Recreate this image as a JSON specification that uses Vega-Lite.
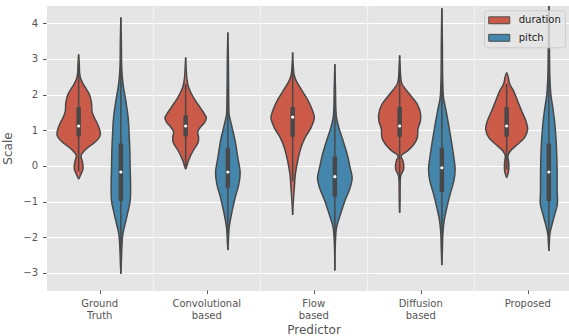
{
"$schema": "https://vega.github.io/schema/vega-lite/v6.json",
"padding": {"left": 1, "top": 5, "right": 0, "bottom": 0},
"data": {"values": [
{"predictor":"Ground Truth","group":"duration","value":3.13,"density":0},
{"predictor":"Ground Truth","group":"duration","value":2.9,"density":0.6},
{"predictor":"Ground Truth","group":"duration","value":2.6,"density":1},
{"predictor":"Ground Truth","group":"duration","value":2.45,"density":2},
{"predictor":"Ground Truth","group":"duration","value":2.3,"density":4.5},
{"predictor":"Ground Truth","group":"duration","value":2.2,"density":6.7},
{"predictor":"Ground Truth","group":"duration","value":2.01,"density":10.7},
{"predictor":"Ground Truth","group":"duration","value":1.85,"density":12.3},
{"predictor":"Ground Truth","group":"duration","value":1.73,"density":13},
{"predictor":"Ground Truth","group":"duration","value":1.54,"density":13.3},
{"predictor":"Ground Truth","group":"duration","value":1.35,"density":15.7},
{"predictor":"Ground Truth","group":"duration","value":1.17,"density":19},
{"predictor":"Ground Truth","group":"duration","value":0.98,"density":21.3},
{"predictor":"Ground Truth","group":"duration","value":0.88,"density":21.7},
{"predictor":"Ground Truth","group":"duration","value":0.76,"density":19.5},
{"predictor":"Ground Truth","group":"duration","value":0.65,"density":15.7},
{"predictor":"Ground Truth","group":"duration","value":0.51,"density":9},
{"predictor":"Ground Truth","group":"duration","value":0.37,"density":4},
{"predictor":"Ground Truth","group":"duration","value":0.28,"density":2.3},
{"predictor":"Ground Truth","group":"duration","value":0.18,"density":3.2},
{"predictor":"Ground Truth","group":"duration","value":0.05,"density":4.2},
{"predictor":"Ground Truth","group":"duration","value":-0.09,"density":4.3},
{"predictor":"Ground Truth","group":"duration","value":-0.23,"density":2.3},
{"predictor":"Ground Truth","group":"duration","value":-0.37,"density":0},
{"predictor":"Ground Truth","group":"pitch","value":4.16,"density":0},
{"predictor":"Ground Truth","group":"pitch","value":3.5,"density":0.5},
{"predictor":"Ground Truth","group":"pitch","value":2.8,"density":0.8},
{"predictor":"Ground Truth","group":"pitch","value":2.48,"density":1.5},
{"predictor":"Ground Truth","group":"pitch","value":2.2,"density":2.7},
{"predictor":"Ground Truth","group":"pitch","value":1.82,"density":5},
{"predictor":"Ground Truth","group":"pitch","value":1.35,"density":7.3},
{"predictor":"Ground Truth","group":"pitch","value":0.89,"density":8.3},
{"predictor":"Ground Truth","group":"pitch","value":0.42,"density":9},
{"predictor":"Ground Truth","group":"pitch","value":-0.05,"density":9.3},
{"predictor":"Ground Truth","group":"pitch","value":-0.51,"density":9.7},
{"predictor":"Ground Truth","group":"pitch","value":-0.98,"density":9.3},
{"predictor":"Ground Truth","group":"pitch","value":-1.26,"density":7.3},
{"predictor":"Ground Truth","group":"pitch","value":-1.54,"density":5},
{"predictor":"Ground Truth","group":"pitch","value":-1.91,"density":2},
{"predictor":"Ground Truth","group":"pitch","value":-2.29,"density":1},
{"predictor":"Ground Truth","group":"pitch","value":-2.7,"density":0.5},
{"predictor":"Ground Truth","group":"pitch","value":-3.02,"density":0},
{"predictor":"Convolutional based","group":"duration","value":3.04,"density":0},
{"predictor":"Convolutional based","group":"duration","value":2.7,"density":0.6},
{"predictor":"Convolutional based","group":"duration","value":2.45,"density":1.2},
{"predictor":"Convolutional based","group":"duration","value":2.2,"density":3},
{"predictor":"Convolutional based","group":"duration","value":1.91,"density":8},
{"predictor":"Convolutional based","group":"duration","value":1.63,"density":14.7},
{"predictor":"Convolutional based","group":"duration","value":1.45,"density":19},
{"predictor":"Convolutional based","group":"duration","value":1.35,"density":20.7},
{"predictor":"Convolutional based","group":"duration","value":1.22,"density":19},
{"predictor":"Convolutional based","group":"duration","value":1.08,"density":14.5},
{"predictor":"Convolutional based","group":"duration","value":0.95,"density":12},
{"predictor":"Convolutional based","group":"duration","value":0.8,"density":13},
{"predictor":"Convolutional based","group":"duration","value":0.65,"density":12.3},
{"predictor":"Convolutional based","group":"duration","value":0.42,"density":7.3},
{"predictor":"Convolutional based","group":"duration","value":0.14,"density":2.7},
{"predictor":"Convolutional based","group":"duration","value":0.0,"density":1.2},
{"predictor":"Convolutional based","group":"duration","value":-0.09,"density":0},
{"predictor":"Convolutional based","group":"pitch","value":3.74,"density":0},
{"predictor":"Convolutional based","group":"pitch","value":3.0,"density":0.5},
{"predictor":"Convolutional based","group":"pitch","value":2.0,"density":0.8},
{"predictor":"Convolutional based","group":"pitch","value":1.6,"density":1},
{"predictor":"Convolutional based","group":"pitch","value":1.45,"density":1.3},
{"predictor":"Convolutional based","group":"pitch","value":1.07,"density":4.3},
{"predictor":"Convolutional based","group":"pitch","value":0.7,"density":7.3},
{"predictor":"Convolutional based","group":"pitch","value":0.23,"density":10},
{"predictor":"Convolutional based","group":"pitch","value":-0.19,"density":12.3},
{"predictor":"Convolutional based","group":"pitch","value":-0.51,"density":11},
{"predictor":"Convolutional based","group":"pitch","value":-0.89,"density":7.3},
{"predictor":"Convolutional based","group":"pitch","value":-1.26,"density":4.3},
{"predictor":"Convolutional based","group":"pitch","value":-1.73,"density":1.3},
{"predictor":"Convolutional based","group":"pitch","value":-2.0,"density":0.7},
{"predictor":"Convolutional based","group":"pitch","value":-2.36,"density":0},
{"predictor":"Flow based","group":"duration","value":3.18,"density":0},
{"predictor":"Flow based","group":"duration","value":2.8,"density":0.6},
{"predictor":"Flow based","group":"duration","value":2.55,"density":1.5},
{"predictor":"Flow based","group":"duration","value":2.38,"density":3.7},
{"predictor":"Flow based","group":"duration","value":2.1,"density":9.7},
{"predictor":"Flow based","group":"duration","value":1.82,"density":15.7},
{"predictor":"Flow based","group":"duration","value":1.54,"density":20},
{"predictor":"Flow based","group":"duration","value":1.35,"density":21.7},
{"predictor":"Flow based","group":"duration","value":1.07,"density":18.3},
{"predictor":"Flow based","group":"duration","value":0.79,"density":12.3},
{"predictor":"Flow based","group":"duration","value":0.51,"density":8.3},
{"predictor":"Flow based","group":"duration","value":0.14,"density":5},
{"predictor":"Flow based","group":"duration","value":-0.23,"density":2.7},
{"predictor":"Flow based","group":"duration","value":-0.61,"density":1.7},
{"predictor":"Flow based","group":"duration","value":-0.98,"density":0.7},
{"predictor":"Flow based","group":"duration","value":-1.37,"density":0},
{"predictor":"Flow based","group":"pitch","value":2.85,"density":0},
{"predictor":"Flow based","group":"pitch","value":2.2,"density":0.6},
{"predictor":"Flow based","group":"pitch","value":1.6,"density":1},
{"predictor":"Flow based","group":"pitch","value":1.35,"density":1.7},
{"predictor":"Flow based","group":"pitch","value":1.07,"density":4},
{"predictor":"Flow based","group":"pitch","value":0.7,"density":8.3},
{"predictor":"Flow based","group":"pitch","value":0.33,"density":12.3},
{"predictor":"Flow based","group":"pitch","value":-0.05,"density":15.3},
{"predictor":"Flow based","group":"pitch","value":-0.33,"density":17.3},
{"predictor":"Flow based","group":"pitch","value":-0.61,"density":15.3},
{"predictor":"Flow based","group":"pitch","value":-0.98,"density":10},
{"predictor":"Flow based","group":"pitch","value":-1.35,"density":5.7},
{"predictor":"Flow based","group":"pitch","value":-1.73,"density":1.7},
{"predictor":"Flow based","group":"pitch","value":-2.1,"density":0.6},
{"predictor":"Flow based","group":"pitch","value":-2.93,"density":0},
{"predictor":"Diffusion based","group":"duration","value":3.1,"density":0},
{"predictor":"Diffusion based","group":"duration","value":2.7,"density":0.6},
{"predictor":"Diffusion based","group":"duration","value":2.45,"density":1.2},
{"predictor":"Diffusion based","group":"duration","value":2.29,"density":2.5},
{"predictor":"Diffusion based","group":"duration","value":2.01,"density":10},
{"predictor":"Diffusion based","group":"duration","value":1.73,"density":17.7},
{"predictor":"Diffusion based","group":"duration","value":1.45,"density":21},
{"predictor":"Diffusion based","group":"duration","value":1.26,"density":20.7},
{"predictor":"Diffusion based","group":"duration","value":1.03,"density":18.3},
{"predictor":"Diffusion based","group":"duration","value":0.79,"density":17.7},
{"predictor":"Diffusion based","group":"duration","value":0.61,"density":14.3},
{"predictor":"Diffusion based","group":"duration","value":0.42,"density":7.7},
{"predictor":"Diffusion based","group":"duration","value":0.28,"density":1.5},
{"predictor":"Diffusion based","group":"duration","value":0.15,"density":3.2},
{"predictor":"Diffusion based","group":"duration","value":0.05,"density":4},
{"predictor":"Diffusion based","group":"duration","value":-0.09,"density":4},
{"predictor":"Diffusion based","group":"duration","value":-0.28,"density":1},
{"predictor":"Diffusion based","group":"duration","value":-0.6,"density":0.5},
{"predictor":"Diffusion based","group":"duration","value":-1.0,"density":0.4},
{"predictor":"Diffusion based","group":"duration","value":-1.31,"density":0},
{"predictor":"Diffusion based","group":"pitch","value":4.42,"density":0},
{"predictor":"Diffusion based","group":"pitch","value":3.5,"density":0.5},
{"predictor":"Diffusion based","group":"pitch","value":2.5,"density":0.8},
{"predictor":"Diffusion based","group":"pitch","value":1.91,"density":1.7},
{"predictor":"Diffusion based","group":"pitch","value":1.54,"density":4.3},
{"predictor":"Diffusion based","group":"pitch","value":1.07,"density":7.3},
{"predictor":"Diffusion based","group":"pitch","value":0.61,"density":10},
{"predictor":"Diffusion based","group":"pitch","value":0.23,"density":12},
{"predictor":"Diffusion based","group":"pitch","value":-0.09,"density":13.3},
{"predictor":"Diffusion based","group":"pitch","value":-0.42,"density":12},
{"predictor":"Diffusion based","group":"pitch","value":-0.79,"density":8.3},
{"predictor":"Diffusion based","group":"pitch","value":-1.17,"density":5},
{"predictor":"Diffusion based","group":"pitch","value":-1.54,"density":2.3},
{"predictor":"Diffusion based","group":"pitch","value":-1.91,"density":1},
{"predictor":"Diffusion based","group":"pitch","value":-2.3,"density":0.6},
{"predictor":"Diffusion based","group":"pitch","value":-2.78,"density":0},
{"predictor":"Proposed","group":"duration","value":2.62,"density":0},
{"predictor":"Proposed","group":"duration","value":2.48,"density":1.7},
{"predictor":"Proposed","group":"duration","value":2.35,"density":2.5},
{"predictor":"Proposed","group":"duration","value":2.22,"density":4.5},
{"predictor":"Proposed","group":"duration","value":2.1,"density":7},
{"predictor":"Proposed","group":"duration","value":1.82,"density":11},
{"predictor":"Proposed","group":"duration","value":1.54,"density":15},
{"predictor":"Proposed","group":"duration","value":1.26,"density":19.3},
{"predictor":"Proposed","group":"duration","value":1.03,"density":21},
{"predictor":"Proposed","group":"duration","value":0.79,"density":17.7},
{"predictor":"Proposed","group":"duration","value":0.61,"density":11},
{"predictor":"Proposed","group":"duration","value":0.42,"density":3.7},
{"predictor":"Proposed","group":"duration","value":0.28,"density":1.3},
{"predictor":"Proposed","group":"duration","value":0.12,"density":2},
{"predictor":"Proposed","group":"duration","value":0.0,"density":2.2},
{"predictor":"Proposed","group":"duration","value":-0.14,"density":2},
{"predictor":"Proposed","group":"duration","value":-0.25,"density":1},
{"predictor":"Proposed","group":"duration","value":-0.33,"density":0},
{"predictor":"Proposed","group":"pitch","value":4.7,"density":0},
{"predictor":"Proposed","group":"pitch","value":3.5,"density":0.5},
{"predictor":"Proposed","group":"pitch","value":2.5,"density":1},
{"predictor":"Proposed","group":"pitch","value":2.01,"density":2},
{"predictor":"Proposed","group":"pitch","value":1.63,"density":4},
{"predictor":"Proposed","group":"pitch","value":1.17,"density":6},
{"predictor":"Proposed","group":"pitch","value":0.7,"density":7.3},
{"predictor":"Proposed","group":"pitch","value":0.23,"density":8},
{"predictor":"Proposed","group":"pitch","value":-0.23,"density":8.3},
{"predictor":"Proposed","group":"pitch","value":-0.7,"density":8.3},
{"predictor":"Proposed","group":"pitch","value":-1.07,"density":8.5},
{"predictor":"Proposed","group":"pitch","value":-1.35,"density":6},
{"predictor":"Proposed","group":"pitch","value":-1.63,"density":3.3},
{"predictor":"Proposed","group":"pitch","value":-1.91,"density":1},
{"predictor":"Proposed","group":"pitch","value":-2.15,"density":0.5},
{"predictor":"Proposed","group":"pitch","value":-2.38,"density":0},
{"predictor":"Ground Truth","group":"duration","lo":-0.15,"q1":0.83,"median":1.12,"q3":1.65,"hi":2.85},
{"predictor":"Ground Truth","group":"pitch","lo":-2.5,"q1":-0.98,"median":-0.17,"q3":0.63,"hi":3.0},
{"predictor":"Convolutional based","group":"duration","lo":0.0,"q1":0.83,"median":1.12,"q3":1.42,"hi":2.3},
{"predictor":"Convolutional based","group":"pitch","lo":-1.9,"q1":-0.61,"median":-0.17,"q3":0.51,"hi":2.2},
{"predictor":"Flow based","group":"duration","lo":-0.43,"q1":0.82,"median":1.37,"q3":1.65,"hi":2.9},
{"predictor":"Flow based","group":"pitch","lo":-2.3,"q1":-0.86,"median":-0.3,"q3":0.26,"hi":1.94},
{"predictor":"Diffusion based","group":"duration","lo":-0.43,"q1":0.82,"median":1.12,"q3":1.65,"hi":2.9},
{"predictor":"Diffusion based","group":"pitch","lo":-2.3,"q1":-0.73,"median":-0.05,"q3":0.51,"hi":2.37},
{"predictor":"Proposed","group":"duration","lo":-0.1,"q1":0.82,"median":1.12,"q3":1.65,"hi":2.3},
{"predictor":"Proposed","group":"pitch","lo":-2.0,"q1":-0.98,"median":-0.17,"q3":0.63,"hi":3.05}
]},
"facet": {"column": {"field": "predictor", "type": "nominal",
  "sort": ["Ground Truth","Convolutional based","Flow based","Diffusion based","Proposed"],
  "title": "Predictor",
  "header": {"labelOrient": "bottom", "titleOrient": "bottom", "labelExpr": "split(datum.value, ' ')",
    "labelFont": "DejaVu Sans", "labelFontSize": 10, "labelColor": "#555555", "labelPadding": 4, "labelLineHeight": 12,
    "titleFont": "DejaVu Sans", "titleFontSize": 12, "titleColor": "#555555", "titleFontWeight": "normal", "titlePadding": -6}}},
"spacing": 0,
"resolve": {"scale": {"x": "independent"}},
"spec": {
  "width": 105.5, "height": 284,
  "resolve": {"scale": {"x": "independent"}},
  "layer": [
    {"layer": [
      {"transform": [{"filter": "datum.group === 'duration' && isValid(datum.density)"}],
       "mark": {"type": "area", "orient": "horizontal", "interpolate": "catmull-rom", "clip": true},
       "encoding": {
         "x": {"field": "density", "type": "quantitative", "stack": null, "scale": {"domain": [-73.85, 31.65], "reverse": true, "nice": false, "zero": false}, "axis": null},
         "y": {"field": "value", "type": "quantitative", "scale": {"domain": [-3.477, 4.485], "nice": false, "zero": false}, "title": "Scale", "axis": {"values": [-3,-2,-1,0,1,2,3,4], "labelExpr": "replace(datum.label, '-', '−')", "labelPadding": 5, "titlePadding": 8}},
         "color": {"field": "group", "type": "nominal", "scale": {"domain": ["duration","pitch"], "range": ["#CC5A49","#4586AC"]}, "legend": {"title": null, "orient": "none", "legendX": 437, "legendY": 4.3}}}},
      {"transform": [{"filter": "datum.group === 'duration' && isValid(datum.density)"}],
       "mark": {"type": "line", "interpolate": "catmull-rom", "color": "#484848", "strokeWidth": 1.5, "clip": true},
       "encoding": {
         "x": {"field": "density", "type": "quantitative", "scale": {"domain": [-73.85, 31.65], "reverse": true, "nice": false, "zero": false}, "axis": null},
         "y": {"field": "value", "type": "quantitative", "scale": {"domain": [-3.477, 4.485], "nice": false, "zero": false}, "title": "Scale", "axis": {"values": [-3,-2,-1,0,1,2,3,4], "labelExpr": "replace(datum.label, '-', '−')", "labelPadding": 5, "titlePadding": 8}},
         "order": {"field": "value", "type": "quantitative"}}}
    ]},
    {"layer": [
      {"transform": [{"filter": "datum.group === 'duration' && isValid(datum.density)"}],
       "mark": {"type": "area", "orient": "horizontal", "interpolate": "catmull-rom", "clip": true},
       "encoding": {
         "x": {"field": "density", "type": "quantitative", "stack": null, "scale": {"domain": [-31.65, 73.85], "nice": false, "zero": false}, "axis": {"values": [21.1], "labels": false, "domain": false, "grid": false, "ticks": true, "title": null}},
         "y": {"field": "value", "type": "quantitative", "scale": {"domain": [-3.477, 4.485], "nice": false, "zero": false}, "title": "Scale", "axis": {"values": [-3,-2,-1,0,1,2,3,4], "labelExpr": "replace(datum.label, '-', '−')", "labelPadding": 5, "titlePadding": 8}},
         "color": {"field": "group", "type": "nominal", "scale": {"domain": ["duration","pitch"], "range": ["#CC5A49","#4586AC"]}, "legend": {"title": null, "orient": "none", "legendX": 437, "legendY": 4.3}}}},
      {"transform": [{"filter": "datum.group === 'duration' && isValid(datum.density)"}],
       "mark": {"type": "line", "interpolate": "catmull-rom", "color": "#484848", "strokeWidth": 1.5, "clip": true},
       "encoding": {
         "x": {"field": "density", "type": "quantitative", "scale": {"domain": [-31.65, 73.85], "nice": false, "zero": false}, "axis": {"values": [21.1], "labels": false, "domain": false, "grid": false, "ticks": true, "title": null}},
         "y": {"field": "value", "type": "quantitative", "scale": {"domain": [-3.477, 4.485], "nice": false, "zero": false}, "title": "Scale", "axis": {"values": [-3,-2,-1,0,1,2,3,4], "labelExpr": "replace(datum.label, '-', '−')", "labelPadding": 5, "titlePadding": 8}},
         "order": {"field": "value", "type": "quantitative"}}},
      {"transform": [{"filter": "datum.group === 'duration' && isValid(datum.q1)"}],
       "mark": {"type": "rule", "color": "#484848", "strokeWidth": 1.5},
       "encoding": {
         "x": {"datum": 0, "type": "quantitative", "axis": {"values": [21.1], "labels": false, "domain": false, "grid": false, "ticks": true, "title": null}},
         "y": {"field": "lo", "type": "quantitative", "scale": {"domain": [-3.477, 4.485], "nice": false, "zero": false}, "title": "Scale", "axis": {"values": [-3,-2,-1,0,1,2,3,4], "labelExpr": "replace(datum.label, '-', '−')", "labelPadding": 5, "titlePadding": 8}},
         "y2": {"field": "hi"}}},
      {"transform": [{"filter": "datum.group === 'duration' && isValid(datum.q1)"}],
       "mark": {"type": "rule", "color": "#484848", "strokeWidth": 4.5, "strokeCap": "butt"},
       "encoding": {
         "x": {"datum": 0, "type": "quantitative", "axis": {"values": [21.1], "labels": false, "domain": false, "grid": false, "ticks": true, "title": null}},
         "y": {"field": "q1", "type": "quantitative", "scale": {"domain": [-3.477, 4.485], "nice": false, "zero": false}, "title": "Scale", "axis": {"values": [-3,-2,-1,0,1,2,3,4], "labelExpr": "replace(datum.label, '-', '−')", "labelPadding": 5, "titlePadding": 8}},
         "y2": {"field": "q3"}}},
      {"transform": [{"filter": "datum.group === 'duration' && isValid(datum.q1)"}],
       "mark": {"type": "point", "filled": true, "color": "#FFFFFF", "opacity": 1, "size": 10},
       "encoding": {
         "x": {"datum": 0, "type": "quantitative", "axis": {"values": [21.1], "labels": false, "domain": false, "grid": false, "ticks": true, "title": null}},
         "y": {"field": "median", "type": "quantitative", "scale": {"domain": [-3.477, 4.485], "nice": false, "zero": false}, "title": "Scale", "axis": {"values": [-3,-2,-1,0,1,2,3,4], "labelExpr": "replace(datum.label, '-', '−')", "labelPadding": 5, "titlePadding": 8}}}}
    ]},
    {"layer": [
      {"transform": [{"filter": "datum.group === 'pitch' && isValid(datum.density)"}],
       "mark": {"type": "area", "orient": "horizontal", "interpolate": "catmull-rom", "clip": true},
       "encoding": {
         "x": {"field": "density", "type": "quantitative", "stack": null, "scale": {"domain": [-31.65, 73.85], "reverse": true, "nice": false, "zero": false}, "axis": null},
         "y": {"field": "value", "type": "quantitative", "scale": {"domain": [-3.477, 4.485], "nice": false, "zero": false}, "title": "Scale", "axis": {"values": [-3,-2,-1,0,1,2,3,4], "labelExpr": "replace(datum.label, '-', '−')", "labelPadding": 5, "titlePadding": 8}},
         "color": {"field": "group", "type": "nominal", "scale": {"domain": ["duration","pitch"], "range": ["#CC5A49","#4586AC"]}, "legend": {"title": null, "orient": "none", "legendX": 437, "legendY": 4.3}}}},
      {"transform": [{"filter": "datum.group === 'pitch' && isValid(datum.density)"}],
       "mark": {"type": "line", "interpolate": "catmull-rom", "color": "#484848", "strokeWidth": 1.5, "clip": true},
       "encoding": {
         "x": {"field": "density", "type": "quantitative", "scale": {"domain": [-31.65, 73.85], "reverse": true, "nice": false, "zero": false}, "axis": null},
         "y": {"field": "value", "type": "quantitative", "scale": {"domain": [-3.477, 4.485], "nice": false, "zero": false}, "title": "Scale", "axis": {"values": [-3,-2,-1,0,1,2,3,4], "labelExpr": "replace(datum.label, '-', '−')", "labelPadding": 5, "titlePadding": 8}},
         "order": {"field": "value", "type": "quantitative"}}}
    ]},
    {"layer": [
      {"transform": [{"filter": "datum.group === 'pitch' && isValid(datum.density)"}],
       "mark": {"type": "area", "orient": "horizontal", "interpolate": "catmull-rom", "clip": true},
       "encoding": {
         "x": {"field": "density", "type": "quantitative", "stack": null, "scale": {"domain": [-73.85, 31.65], "nice": false, "zero": false}, "axis": null},
         "y": {"field": "value", "type": "quantitative", "scale": {"domain": [-3.477, 4.485], "nice": false, "zero": false}, "title": "Scale", "axis": {"values": [-3,-2,-1,0,1,2,3,4], "labelExpr": "replace(datum.label, '-', '−')", "labelPadding": 5, "titlePadding": 8}},
         "color": {"field": "group", "type": "nominal", "scale": {"domain": ["duration","pitch"], "range": ["#CC5A49","#4586AC"]}, "legend": {"title": null, "orient": "none", "legendX": 437, "legendY": 4.3}}}},
      {"transform": [{"filter": "datum.group === 'pitch' && isValid(datum.density)"}],
       "mark": {"type": "line", "interpolate": "catmull-rom", "color": "#484848", "strokeWidth": 1.5, "clip": true},
       "encoding": {
         "x": {"field": "density", "type": "quantitative", "scale": {"domain": [-73.85, 31.65], "nice": false, "zero": false}, "axis": null},
         "y": {"field": "value", "type": "quantitative", "scale": {"domain": [-3.477, 4.485], "nice": false, "zero": false}, "title": "Scale", "axis": {"values": [-3,-2,-1,0,1,2,3,4], "labelExpr": "replace(datum.label, '-', '−')", "labelPadding": 5, "titlePadding": 8}},
         "order": {"field": "value", "type": "quantitative"}}},
      {"transform": [{"filter": "datum.group === 'pitch' && isValid(datum.q1)"}],
       "mark": {"type": "rule", "color": "#484848", "strokeWidth": 1.5, "clip": true},
       "encoding": {
         "x": {"datum": 0, "type": "quantitative", "axis": null},
         "y": {"field": "lo", "type": "quantitative", "scale": {"domain": [-3.477, 4.485], "nice": false, "zero": false}, "title": "Scale", "axis": {"values": [-3,-2,-1,0,1,2,3,4], "labelExpr": "replace(datum.label, '-', '−')", "labelPadding": 5, "titlePadding": 8}},
         "y2": {"field": "hi"}}},
      {"transform": [{"filter": "datum.group === 'pitch' && isValid(datum.q1)"}],
       "mark": {"type": "rule", "color": "#484848", "strokeWidth": 4.5, "strokeCap": "butt"},
       "encoding": {
         "x": {"datum": 0, "type": "quantitative", "axis": null},
         "y": {"field": "q1", "type": "quantitative", "scale": {"domain": [-3.477, 4.485], "nice": false, "zero": false}, "title": "Scale", "axis": {"values": [-3,-2,-1,0,1,2,3,4], "labelExpr": "replace(datum.label, '-', '−')", "labelPadding": 5, "titlePadding": 8}},
         "y2": {"field": "q3"}}},
      {"transform": [{"filter": "datum.group === 'pitch' && isValid(datum.q1)"}],
       "mark": {"type": "point", "filled": true, "color": "#FFFFFF", "opacity": 1, "size": 10},
       "encoding": {
         "x": {"datum": 0, "type": "quantitative", "axis": null},
         "y": {"field": "median", "type": "quantitative", "scale": {"domain": [-3.477, 4.485], "nice": false, "zero": false}, "title": "Scale", "axis": {"values": [-3,-2,-1,0,1,2,3,4], "labelExpr": "replace(datum.label, '-', '−')", "labelPadding": 5, "titlePadding": 8}}}}
    ]}
  ]
},
"config": {
  "font": "DejaVu Sans",
  "view": {"fill": "#E5E5E5", "stroke": "#E5E5E5", "strokeWidth": 1},
  "axis": {"labelFont": "DejaVu Sans", "labelFontSize": 10, "labelColor": "#555555", "tickColor": "#555555", "tickSize": 3.5, "tickWidth": 1, "domain": false, "gridColor": "#FFFFFF", "gridWidth": 1, "titleFont": "DejaVu Sans", "titleFontSize": 12, "titleFontWeight": "normal", "titleColor": "#555555"},
  "legend": {"fillColor": "rgba(229,229,229,0.8)", "strokeColor": "#CCCCCC", "cornerRadius": 3, "padding": 4, "labelFont": "DejaVu Sans", "labelFontSize": 10, "labelColor": "#222222", "symbolType": "M-2,-0.66H2V0.66H-2Z", "symbolSize": 110, "symbolStrokeColor": "#484848", "symbolStrokeWidth": 1, "symbolOffset": 5.25, "labelOffset": 13.5, "rowPadding": 5.5}
}
}
